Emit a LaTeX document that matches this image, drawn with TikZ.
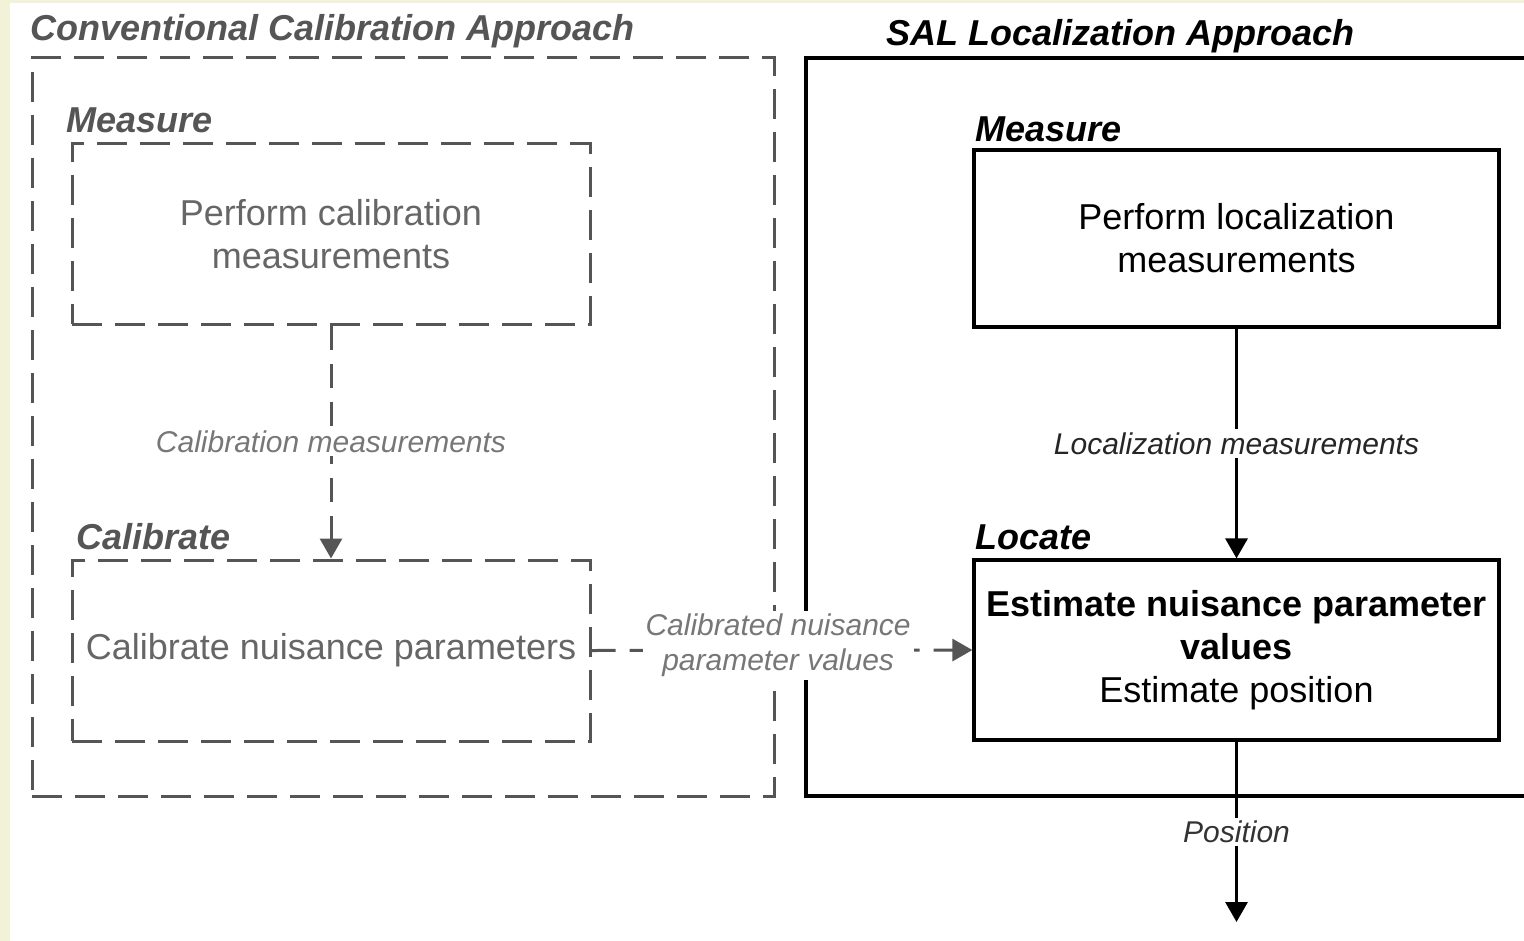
\documentclass[tikz,border=0pt]{standalone}
\usepackage{fontspec}
\setmainfont{Liberation Sans}
\usetikzlibrary{arrows.meta}
\usetikzlibrary{positioning}

\definecolor{paleyellow}{HTML}{F2F2D8}
\definecolor{convgray}{HTML}{555555}
\definecolor{convtext}{HTML}{666666}
\definecolor{labelgray}{HTML}{777777}

\begin{document}
\begin{tikzpicture}[x=0.5pt, y=-0.5pt,
  convline/.style={draw=convgray, line width=1.5pt, dash pattern=on 15pt off 6.5pt},
  convflow/.style={draw=convgray, line width=1.5pt, dash pattern=on 12pt off 7pt,
    -{Triangle[length=10pt,width=11pt]}},
  salline/.style={draw=black, line width=1.6pt},
  salflow/.style={draw=black, line width=1.6pt, -{Triangle[length=10pt,width=11pt]}},
  boxtext/.style={font=\fontsize{18}{21.5}\selectfont, align=center},
  heading/.style={font=\fontsize{18}{21.5}\selectfont\bfseries\itshape, inner sep=0pt, anchor=base west},
  flowlabel/.style={font=\fontsize{15}{17.5}\selectfont\itshape, fill=white, align=center, inner sep=1.5pt}]

\useasboundingbox (0,0) rectangle (1524,941);
\clip (0,0) rectangle (1524,941);
\fill[paleyellow] (0,0) rectangle (10,941);
\fill[paleyellow] (0,0) rectangle (1524,3);

% frames of the two approaches
\node[convline, minimum width=371pt, minimum height=369pt] (convframe) at (403,427) {};
\node[salline, minimum width=377pt, minimum height=369pt] (salframe) at (1183,427) {};
\node[heading, text=convgray] (convtitle) at (30,41) {Conventional Calibration Approach};
\node[heading] (saltitle) at (886,46) {SAL Localization Approach};

% conventional side
\node[convline, boxtext, text=convtext, minimum width=259pt, minimum height=90pt] (calmeas) at (331,234) {Perform calibration\\measurements};
\node[heading, text=convgray] (calmeashead) at (66,133) {Measure};
\node[convline, boxtext, text=convtext, minimum width=259pt, minimum height=90.5pt] (calib) at (331,650.5) {Calibrate nuisance parameters};
\node[heading, text=convgray] (calibhead) at (76,549) {Calibrate};

% SAL side
\node[salline, boxtext, minimum width=262.5pt, minimum height=88.5pt] (locmeas) at (1236.5,238.5) {Perform localization\\measurements};
\node[heading] (locmeashead) at (975,142) {Measure};
\node[salline, boxtext, minimum width=262.5pt, minimum height=90pt] (locate) at (1236.5,650) {\textbf{Estimate nuisance parameter}\\\textbf{values}\\Estimate position};
\node[heading] (locatehead) at (975,549) {Locate};
\coordinate (posend) at (1236.5,922);

% flows
\draw[convflow] (calmeas) -- node[flowlabel, text=labelgray] {Calibration measurements} (calib);
\draw[convflow] (calib.east) -- node[flowlabel, text=labelgray, pos=0.49, yshift=2.5pt] {Calibrated nuisance\\parameter values} (locate.west);
\draw[salflow] (locmeas) -- node[flowlabel, text=black!85] {Localization measurements} (locate);
\draw[salflow] (locate) -- node[flowlabel, text=black!80] {Position} (posend);

\end{tikzpicture}
\end{document}
